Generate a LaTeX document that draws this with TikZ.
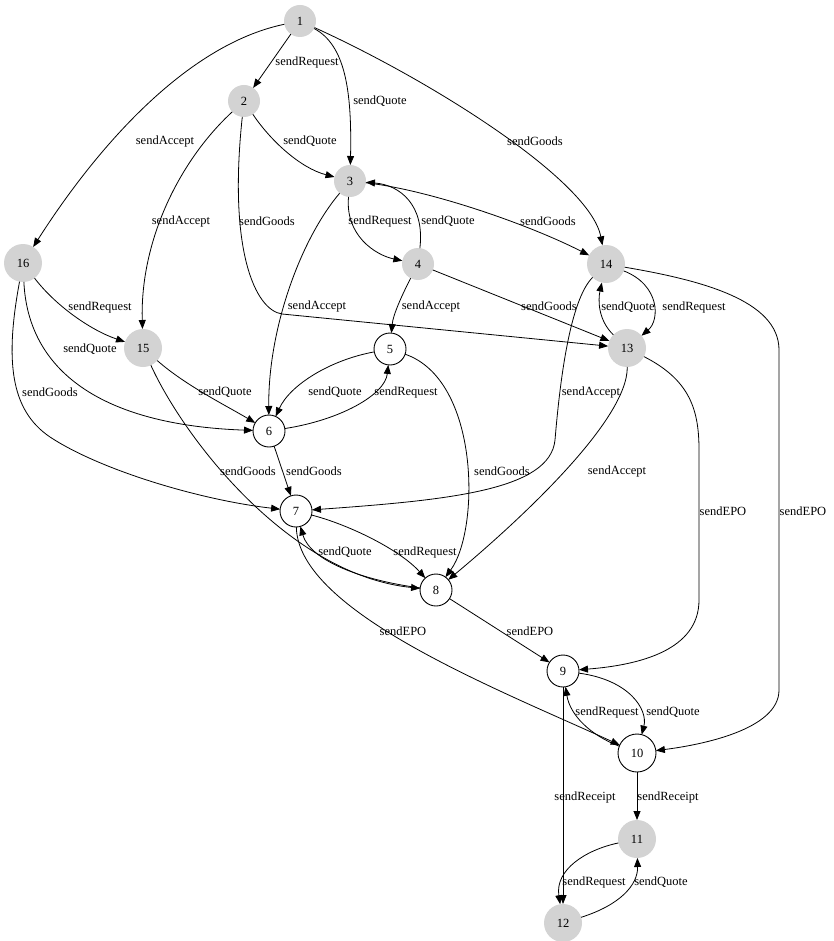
\documentclass[tikz,border=0pt]{standalone}
\usepackage{fontspec}
\setmainfont{Liberation Serif}
\usetikzlibrary{arrows.meta}
\definecolor{gfill}{HTML}{D3D3D3}
\begin{document}
\begin{tikzpicture}[x=1pt,y=-1pt,
  st/.style={circle, inner sep=0pt, outer sep=0pt, font=\fontsize{12.5}{14}\selectfont},
  gs/.style={st, fill=gfill},
  ws/.style={st, draw=black, line width=0.9pt, fill=white},
  one/.style={minimum size=32pt},
  two/.style={minimum size=38pt},
  e/.style={draw, line width=0.8pt, -{Triangle[length=9pt,width=7pt]}},
  lb/.style={font=\fontsize{12.5}{14}\selectfont, inner sep=0pt}]
\useasboundingbox (0,0) rectangle (833,941);
% nodes
\node[gs,one] (n1) at (300,21) {1};
\node[gs,one] (n2) at (244,101) {2};
\node[gs,one] (n3) at (350,181) {3};
\node[gs,one] (n4) at (418,264) {4};
\node[ws,one] (n5) at (390,349) {5};
\node[ws,one] (n6) at (269,431) {6};
\node[ws,one] (n7) at (296,511) {7};
\node[ws,one] (n8) at (436,590) {8};
\node[ws,one] (n9) at (563,671) {9};
\node[ws,two] (n10) at (637,753) {10};
\node[gs,two] (n11) at (637,839) {11};
\node[gs,two] (n12) at (563,923) {12};
\node[gs,two] (n13) at (627,348) {13};
\node[gs,two] (n14) at (606,264) {14};
\node[gs,two] (n15) at (143,348) {15};
\node[gs,two] (n16) at (23,263) {16};
% edges
\draw[e] (n1) -- (n2);
\draw[e] (n1) .. controls (345,45) and (352,90) .. (n3);
\draw[e] (n1) .. controls (185,45) and (95,150) .. (n16);
\draw[e] (n1) .. controls (430,80) and (590,180) .. (n14);
\draw[e] (n2) .. controls (270,140) and (300,168) .. (n3);
\draw[e] (n2) .. controls (180,160) and (140,240) .. (n15);
\draw[e] (n2) .. controls (228,250) and (255,310) .. (282,314) -- (n13);
\draw[e] (n3) .. controls (345,235) and (375,255) .. (n4);
\draw[e] (n4) .. controls (425,205) and (400,185) .. (n3);
\draw[e] (n3) .. controls (430,190) and (530,225) .. (n14);
\draw[e] (n3) .. controls (300,240) and (268,330) .. (n6);
\draw[e] (n4) .. controls (402,295) and (393,315) .. (n5);
\draw[e] (n4) -- (n13);
\draw[e] (n16) .. controls (55,305) and (90,330) .. (n15);
\draw[e] (n16) .. controls (28,370) and (100,425) .. (n6);
\draw[e] (n16) .. controls (5,360) and (10,410) .. (50,437) .. controls (100,470) and (200,500) .. (n7);
\draw[e] (n15) .. controls (185,385) and (225,405) .. (n6);
\draw[e] (n15) .. controls (185,440) and (290,575) .. (n8);
\draw[e] (n5) .. controls (330,360) and (290,385) .. (n6);
\draw[e] (n6) .. controls (340,420) and (385,395) .. (n5);
\draw[e] (n5) .. controls (480,380) and (480,530) .. (n8);
\draw[e] (n6) -- (n7);
\draw[e] (n14) .. controls (570,300) and (560,380) .. (555,440) .. controls (550,490) and (450,500) .. (n7);
\draw[e] (n14) .. controls (660,285) and (660,320) .. (n13);
\draw[e] (n13) .. controls (598,320) and (598,300) .. (n14);
\draw[e] (n13) .. controls (628,420) and (520,520) .. (n8);
\draw[e] (n13) .. controls (690,380) and (699,410) .. (699,450) -- (699,600) .. controls (699,650) and (640,665) .. (n9);
\draw[e] (n14) .. controls (700,280) and (779,300) .. (779,350) -- (779,690) .. controls (779,730) and (700,745) .. (n10);
\draw[e] (n7) .. controls (350,525) and (400,550) .. (n8);
\draw[e] (n8) .. controls (360,580) and (310,560) .. (n7);
\draw[e] (n7) .. controls (298,612) and (500,690) .. (n10);
\draw[e] (n8) -- (n9);
\draw[e] (n9) .. controls (630,680) and (648,710) .. (n10);
\draw[e] (n10) .. controls (590,735) and (570,715) .. (n9);
\draw[e] (n9) -- (n12);
\draw[e] (n10) -- (n11);
\draw[e] (n11) .. controls (585,850) and (555,870) .. (n12);
\draw[e] (n12) .. controls (620,905) and (638,885) .. (n11);
% labels
\node[lb] (l1) at (307,62) {sendRequest};
\node[lb] (l2) at (380,101) {sendQuote};
\node[lb] (l3) at (165,141) {sendAccept};
\node[lb] (l4) at (535,141) {sendGoods};
\node[lb] (l5) at (310,141) {sendQuote};
\node[lb] (l6) at (181,221) {sendAccept};
\node[lb] (l7) at (267,221) {sendGoods};
\node[lb] (l8) at (380,221) {sendRequest};
\node[lb] (l9) at (448,221) {sendQuote};
\node[lb] (l10) at (548,221) {sendGoods};
\node[lb] (l11) at (317,306) {sendAccept};
\node[lb] (l12) at (431,306) {sendAccept};
\node[lb] (l13) at (549,306) {sendGoods};
\node[lb] (l14) at (628,307) {sendQuote};
\node[lb] (l15) at (694,307) {sendRequest};
\node[lb] (l16) at (100,307) {sendRequest};
\node[lb] (l17) at (90,349) {sendQuote};
\node[lb] (l18) at (50,392) {sendGoods};
\node[lb] (l19) at (225,392) {sendQuote};
\node[lb] (l20) at (248,471) {sendGoods};
\node[lb] (l21) at (314,471) {sendGoods};
\node[lb] (l22) at (335,392) {sendQuote};
\node[lb] (l23) at (406,392) {sendRequest};
\node[lb] (l24) at (502,471) {sendGoods};
\node[lb] (l25) at (591,392) {sendAccept};
\node[lb] (l26) at (617,471) {sendAccept};
\node[lb] (l27) at (723,511) {sendEPO};
\node[lb] (l28) at (803,511) {sendEPO};
\node[lb] (l29) at (345,552) {sendQuote};
\node[lb] (l30) at (425,552) {sendRequest};
\node[lb] (l31) at (403,631) {sendEPO};
\node[lb] (l32) at (530,631) {sendEPO};
\node[lb] (l33) at (607,712) {sendRequest};
\node[lb] (l34) at (673,712) {sendQuote};
\node[lb] (l35) at (585,797) {sendReceipt};
\node[lb] (l36) at (668,797) {sendReceipt};
\node[lb] (l37) at (594,882) {sendRequest};
\node[lb] (l38) at (661,882) {sendQuote};
\end{tikzpicture}
\end{document}
